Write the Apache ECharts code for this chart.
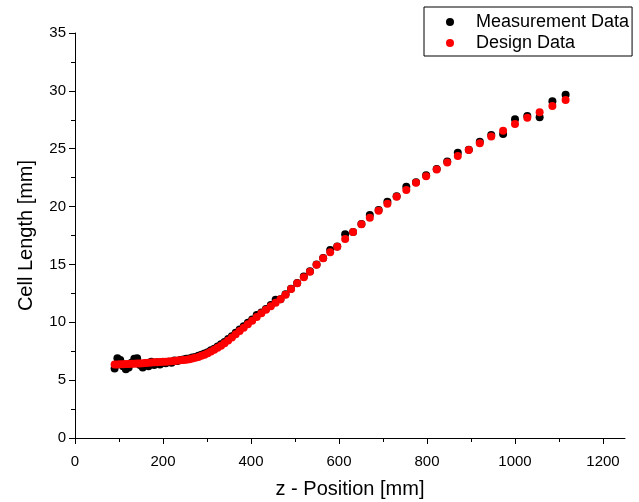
<!DOCTYPE html>
<html>
<head>
<meta charset="utf-8">
<script src="https://cdn.jsdelivr.net/npm/echarts@6/dist/echarts.min.js"></script>
<style>
html,body{margin:0;padding:0;background:#fff;}
#chart{width:639px;height:502px;}
</style>
</head>
<body>
<div id="chart"></div>
<script>
// z positions of cells [mm]
var zPos = [
  90.0, 96.4, 102.8, 109.2, 115.6, 122.0, 128.4, 134.8, 141.2, 147.6,
  154.0, 160.5, 167.0, 173.5, 180.0, 186.5, 193.1, 199.7, 206.3, 212.9,
  219.5, 226.1, 232.8, 239.5, 246.2, 253.0, 259.8, 266.6, 273.5, 280.4,
  287.4, 294.5, 301.7, 309.0, 316.5, 324.1, 331.9, 339.9, 348.1, 356.5,
  365.2, 374.2, 383.4, 392.9, 402.7, 413.0, 423.5, 434.0, 445.0, 456.0,
  467.0, 478.5, 491.0, 505.0, 520.0, 534.0, 549.0, 564.0, 580.0, 596.0,
  614.0, 632.0, 651.0, 670.0, 690.0, 710.0, 731.0, 753.0, 775.0, 798.0,
  822.0, 846.0, 870.0, 895.0, 920.0, 946.0, 973.0, 1000.0, 1028.0, 1056.0,
  1085.0, 1115.0
];
// Design cell length [mm]
var lenDesign = [
  6.35, 6.36, 6.37, 6.38, 6.39, 6.40, 6.41, 6.42, 6.43, 6.44,
  6.46, 6.48, 6.50, 6.52, 6.54, 6.55, 6.57, 6.58, 6.60, 6.62,
  6.64, 6.66, 6.69, 6.71, 6.74, 6.77, 6.81, 6.86, 6.93, 7.00,
  7.10, 7.20, 7.33, 7.48, 7.63, 7.80, 7.98, 8.18, 8.42, 8.68,
  8.96, 9.24, 9.52, 9.82, 10.13, 10.45, 10.78, 11.08, 11.38, 11.68,
  11.98, 12.38, 12.88, 13.37, 13.89, 14.37, 14.98, 15.53, 16.05, 16.53,
  17.2, 17.8, 18.47, 19.04, 19.64, 20.25, 20.85, 21.43, 22.06, 22.62,
  23.2, 23.8, 24.37, 24.89, 25.47, 26.05, 26.56, 27.14, 27.68, 28.15,
  28.69, 29.2
];
// Measured cell length [mm]
var lenMeas = [
  6.0, 6.9, 6.75, 6.2, 5.95, 6.1, 6.5, 6.85, 6.9, 6.3,
  6.1, 6.45, 6.2, 6.6, 6.3, 6.55, 6.35, 6.5, 6.45, 6.6,
  6.5, 6.7, 6.65, 6.75, 6.78, 6.85, 6.88, 6.95, 7.0, 7.1,
  7.2, 7.3, 7.42, 7.58, 7.72, 7.9, 8.1, 8.3, 8.55, 8.8,
  9.1, 9.38, 9.65, 9.95, 10.25, 10.62, 10.85, 11.15, 11.5, 11.95,
  12.0, 12.42, 12.9, 13.4, 13.95, 14.4, 15.0, 15.55, 16.25, 16.55,
  17.6, 17.8, 18.5, 19.27, 19.7, 20.42, 20.9, 21.72, 22.1, 22.7,
  23.25, 23.9, 24.66, 24.9, 25.61, 26.19, 26.27, 27.54, 27.83, 27.72,
  29.1, 29.67
];
var xMajorTicks = [0, 200, 400, 600, 800, 1000, 1200];
var xMinorTicks = [100, 300, 500, 700, 900, 1100];
var seriesNames = ['Measurement Data', 'Design Data'];
var xTitle = 'z - Position [mm]';
var yTitle = 'Cell Length [mm]';

var FONT = '"Liberation Sans", Arial, sans-serif';
function pairs(xs, ys) { return xs.map(function (x, i) { return [x, ys[i]]; }); }

var chart = echarts.init(document.getElementById('chart'), null, {renderer: 'canvas'});
chart.setOption({
  animation: false,
  backgroundColor: '#ffffff',
  textStyle: {fontFamily: FONT, color: '#000'},
  grid: {left: 75, right: 14, top: 33, bottom: 64, containLabel: false, outerBoundsMode: 'none'},
  legend: {
    left: 424, top: 7, orient: 'vertical',
    padding: [6, 3, 4, 22],
    borderColor: '#000', borderWidth: 1,
    itemWidth: 42, itemHeight: 8, itemGap: 3,
    textStyle: {fontSize: 18, color: '#000', fontFamily: FONT, lineHeight: 18},
    data: [{name: seriesNames[0], icon: 'circle'}, {name: seriesNames[1], icon: 'circle'}]
  },
  xAxis: [{
    type: 'value', min: 0, max: 1250, position: 'bottom',
    name: xTitle, nameLocation: 'middle', nameGap: 41,
    nameTextStyle: {fontSize: 20, color: '#000', fontFamily: FONT},
    axisLine: {show: true, onZero: false, lineStyle: {color: '#000', width: 1}},
    axisTick: {show: true, inside: false, length: 6, customValues: xMajorTicks, lineStyle: {color: '#000'}},
    axisLabel: {customValues: xMajorTicks, fontSize: 15, color: '#000', margin: 16, fontFamily: FONT,
      formatter: function (v) { return String(v); }},
    splitLine: {show: false}
  }, {
    type: 'value', min: 0, max: 1250, position: 'bottom',
    axisLine: {show: false},
    axisTick: {show: true, inside: false, length: 4, customValues: xMinorTicks, lineStyle: {color: '#000'}},
    axisLabel: {show: false},
    splitLine: {show: false}
  }],
  yAxis: {
    type: 'value', min: 0, max: 35, interval: 5,
    name: yTitle, nameLocation: 'middle', nameGap: 39,
    nameTextStyle: {fontSize: 20, color: '#000', fontFamily: FONT},
    axisLine: {show: true, onZero: false, lineStyle: {color: '#000', width: 1}},
    axisTick: {show: true, inside: false, length: 6, lineStyle: {color: '#000'}},
    minorTick: {show: true, splitNumber: 2, length: 4, lineStyle: {color: '#000'}},
    axisLabel: {fontSize: 15, color: '#000', margin: 9, fontFamily: FONT,
      formatter: function (v) { return String(v); }},
    splitLine: {show: false}
  },
  series: [{
    name: seriesNames[0], type: 'scatter', xAxisIndex: 0,
    symbol: 'circle', symbolSize: 8,
    itemStyle: {color: '#000000', opacity: 1},
    data: pairs(zPos, lenMeas)
  }, {
    name: seriesNames[1], type: 'scatter', xAxisIndex: 0,
    symbol: 'circle', symbolSize: 8,
    itemStyle: {color: '#ff0000', opacity: 1},
    data: pairs(zPos, lenDesign)
  }]
});
</script>
</body>
</html>
